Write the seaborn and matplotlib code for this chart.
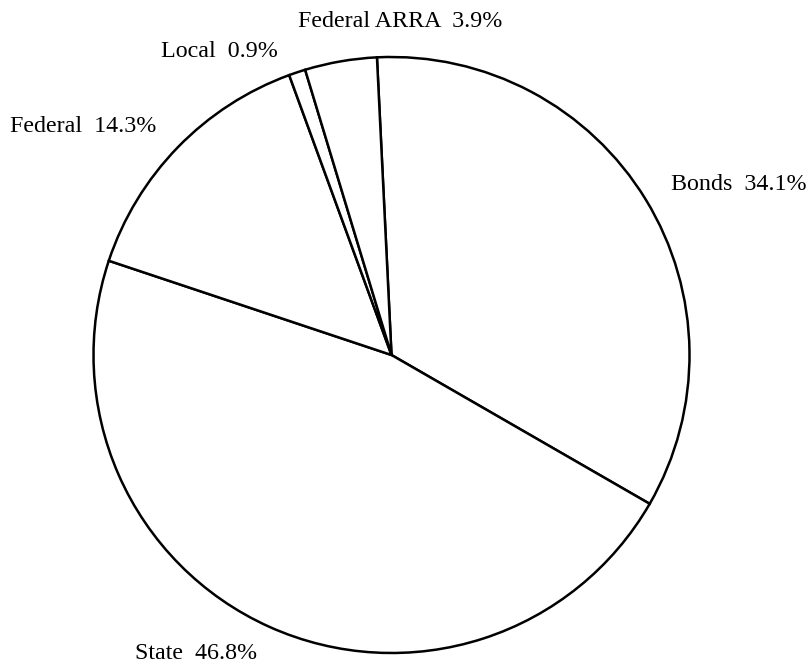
import matplotlib
matplotlib.use("Agg")
import matplotlib.pyplot as plt
import seaborn as sns

# funding sources, clockwise from the top
sources = ["Bonds", "State", "Federal", "Local", "Federal ARRA"]
shares = [34.1, 46.8, 14.3, 0.9, 3.9]

sns.set_theme(style="white")
plt.rcParams["font.family"] = ["Liberation Serif", "DejaVu Serif"]

fig = plt.figure(figsize=(8.09, 6.71), dpi=100)
ax = fig.add_axes([0, 0, 1, 1])

labels = [f"{s}  {v}%" for s, v in zip(sources, shares)]
wedges, texts = ax.pie(
    shares,
    labels=labels,
    startangle=92.8,
    counterclock=False,
    colors=["white"] * len(shares),
    wedgeprops={"edgecolor": "black", "linewidth": 1.8},
    labeldistance=1.1,
    textprops={"fontsize": 17.3, "color": "black"},
)

# nudge the two crowded labels at the top
texts[3].set_position((-0.38, 1.02))
texts[4].set_position((0.03, 1.12))
texts[4].set_ha("center")

ax.set_aspect("equal")
ax.set_xlim(-391.5 / 298, (809 - 391.5) / 298)
ax.set_ylim((355 - 671) / 298, 355 / 298)
ax.axis("off")

fig.savefig("out.png", dpi=100)
